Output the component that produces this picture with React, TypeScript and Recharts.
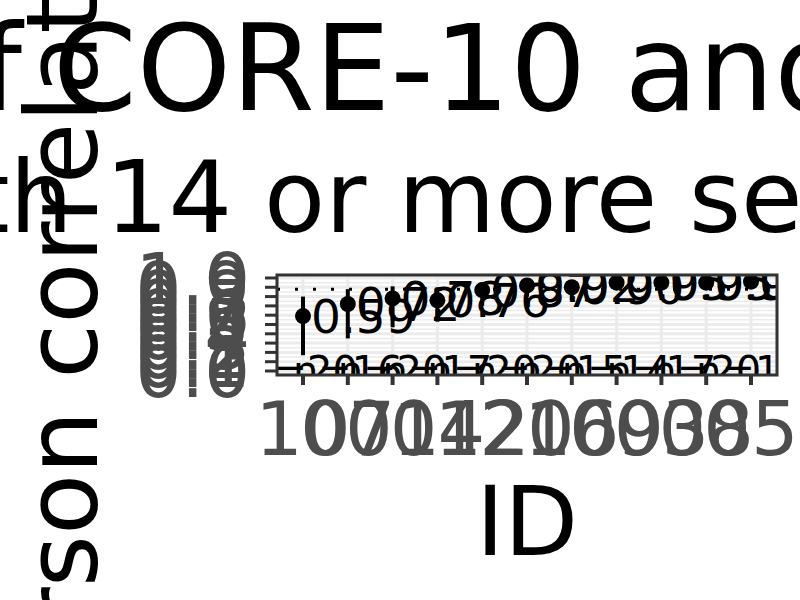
import { ComposedChart, Line, ErrorBar, XAxis, YAxis, CartesianGrid, ReferenceLine, LabelList } from 'recharts'

const ids = ['10', '07', '01', '04', '12', '20', '16', '09', '03', '08', '05']
const pearsonR = [0.59, 0.72, 0.78, 0.76, 0.87, 0.92, 0.9, 0.95, 0.95, 0.95, 0.96]
const lowerCI = [0.17, 0.35, 0.47, 0.53, 0.7, 0.8, 0.76, 0.87, 0.87, 0.88, 0.9]
const upperCI = [0.8, 0.88, 0.91, 0.9, 0.95, 0.97, 0.96, 0.98, 0.98, 0.98, 0.99]
const nSessions = [20, 16, 20, 17, 20, 20, 15, 14, 17, 20, 18]
const yTicks = [0, 0.1, 0.2, 0.3, 0.4, 0.5, 0.6, 0.7, 0.8, 0.9, 1]
const yMinor = [0.05, 0.15, 0.25, 0.35, 0.45, 0.55, 0.65, 0.75, 0.85, 0.95]
const refLevel = 0.88
const nLabelLevel = 0

const data = ids.map((id, i) => ({
    id,
    r: pearsonR[i],
    err: [pearsonR[i] - lowerCI[i], upperCI[i] - pearsonR[i]],
    nPos: nLabelLevel,
    n: nSessions[i],
}))

// plot panel box (ggplot-ish layout)
const P = { x: 277, y: 275, w: 500, h: 100 }

const clipped = (key: string, node: any) => (
    <g>
        <defs>
            <clipPath id={key}>
                <rect x={P.x} y={P.y} width={P.w} height={P.h} />
            </clipPath>
        </defs>
        <g clipPath={`url(#${key})`}>{node}</g>
    </g>
)

const renderR = (p: any) =>
    clipped(
        `clip-r-${p.index}`,
        <text x={p.x + 8} y={p.y} dy="0.36em" fontSize={47} fill="#000">
            {Number(p.value).toFixed(2)}
        </text>
    )

const renderN = (p: any) =>
    clipped(
        `clip-n-${p.index}`,
        <text x={p.x} y={p.y} dy="0.36em" fontSize={40} fill="#000" textAnchor="middle">
            {`n=${p.value}`}
        </text>
    )

export default function App() {
    return (
        <div style={{ position: 'absolute', left: 0, top: 0, width: 800, height: 600, background: '#fff', fontFamily: 'DejaVu Sans' }}>
            <ComposedChart
                width={800}
                height={600}
                data={data}
                margin={{ top: P.y, right: 800 - P.x - P.w, bottom: 125, left: 20 }}
                style={{ fontFamily: 'DejaVu Sans' }}
            >
                <CartesianGrid stroke="#EBEBEB" strokeWidth={3} />
                {yMinor.map(v => (
                    <ReferenceLine key={v} y={v} stroke="#EBEBEB" strokeWidth={1.5} />
                ))}
                <XAxis
                    dataKey="id"
                    type="category"
                    interval={0}
                    padding={{ left: 26, right: 26 }}
                    height={100}
                    tickSize={10}
                    tickMargin={17}
                    axisLine={false}
                    tickLine={{ stroke: '#333333', strokeWidth: 4 }}
                    tick={{ fontSize: 75, fill: '#4D4D4D' }}
                />
                <YAxis
                    type="number"
                    domain={[-0.043, 1.032]}
                    allowDataOverflow
                    ticks={yTicks}
                    interval={0}
                    width={257}
                    tickSize={12}
                    tickMargin={15}
                    axisLine={false}
                    tickLine={{ stroke: '#333333', strokeWidth: 3 }}
                    tick={{ fontSize: 72, fill: '#4D4D4D' }}
                    tickFormatter={(v: number) => v.toFixed(1)}
                />
                <ReferenceLine y={refLevel} stroke="#000" strokeWidth={3} strokeDasharray="3 15" />
                <Line dataKey="nPos" stroke="none" dot={false} activeDot={false} isAnimationActive={false}>
                    <LabelList dataKey="n" content={renderN} />
                </Line>
                <Line
                    dataKey="r"
                    stroke="none"
                    dot={{ r: 8, fill: '#000', stroke: '#000', strokeWidth: 0 }}
                    activeDot={false}
                    isAnimationActive={false}
                >
                    <ErrorBar dataKey="err" width={0} stroke="#000" strokeWidth={4} direction="y" />
                    <LabelList dataKey="r" content={renderR} />
                </Line>
            </ComposedChart>
            <svg
                width={800}
                height={600}
                style={{ position: 'absolute', left: 0, top: 0, pointerEvents: 'none', fontFamily: 'DejaVu Sans' }}
            >
                <rect x={P.x} y={P.y} width={P.w} height={P.h} fill="none" stroke="#333333" strokeWidth={3} />
                <text x={22} y={110} fontSize={120} textAnchor="end" fill="#000">Correlation of</text>
                <text x={53} y={110} fontSize={120} fill="#000">CORE-10 and WEMWBS</text>
                <text x={73} y={232} fontSize={100} textAnchor="end" fill="#000">Clients with</text>
                <text x={105} y={232} fontSize={100} fill="#000">14 or more sessions</text>
                <text transform="translate(97,325) rotate(-90)" fontSize={100} textAnchor="middle" fill="#000">
                    Pearson correlation
                </text>
                <text x={527} y={555} fontSize={96} textAnchor="middle" fill="#000">ID</text>
            </svg>
        </div>
    )
}
